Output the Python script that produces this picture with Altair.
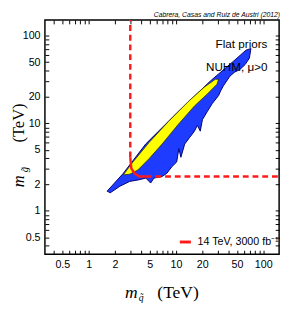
import altair as alt
import pandas as pd

# ---------------- data (TeV) ----------------
blue_x = [1.63, 2.5, 4.5, 10.6, 24.9, 45.3, 63.5, 72.3, 69.3, 62.0, 53.7, 47.0, 41.6, 35.0,
          32.5, 30.8, 26.0, 22.8, 20.1, 19.0, 17.6, 16.3, 14.3, 12.6, 11.4, 10.8, 10.2,
          8.96, 7.88, 6.94, 5.6, 5.14, 4.52, 3.81, 2.95, 2.28, 1.77, 1.63]
blue_y = [1.68, 2.69, 5.8, 13.6, 30.6, 51.0, 68.7, 71.7, 55.5, 47.0, 41.1, 38.5, 34.7, 26.9,
          23.5, 20.8, 16.8, 13.6, 11.0, 8.15, 9.5, 8.15, 6.87, 5.8, 4.1, 5.14, 3.62,
          3.19, 2.69, 2.47, 2.37, 2.08, 2.37, 2.27, 2.17, 1.91, 1.61, 1.68]

yel_x = [2.5, 3.22, 4.92, 8.2, 13.7, 21.0, 28.3, 30.8, 29.5, 22.9, 16.3, 10.6, 6.94, 4.92, 3.66, 2.95, 2.5]
yel_y = [2.58, 3.62, 6.04, 10.5, 17.6, 25.8, 31.9, 31.9, 28.0, 21.7, 15.8, 9.7, 5.8, 3.95, 2.93, 2.62, 2.58]

red_x = [3.0, 3.08, 3.36, 3.81, 4.5]
red_y = [4.1, 3.06, 2.69, 2.47, 2.47]

vline_x = [3.0]
vline_y = [4.1]
hline_x = [4.5]
hline_y = [2.47]

tick_vals = [0.4, 0.5, 0.6, 0.7, 0.8, 0.9, 1, 2, 3, 4, 5, 6, 7, 8, 9,
             10, 20, 30, 40, 50, 60, 70, 80, 90, 100]
label_vals = [0.5, 1, 2, 5, 10, 20, 50, 100]

legend_label = "14 TeV, 3000 fb\u207b\u00b9"
citation = "Cabrera, Casas and Ruiz de Austri (2012)"
note1 = "Flat priors"
note2 = "NUHM, \u03bc>0"

# ---------------- frames ----------------
blue = pd.DataFrame({"x": blue_x, "y": blue_y, "i": range(len(blue_x))})
yel = pd.DataFrame({"x": yel_x, "y": yel_y, "i": range(len(yel_x))})
red = pd.DataFrame({"x": red_x, "y": red_y, "i": range(len(red_x)), "name": [legend_label] * len(red_x)})
vdf = pd.DataFrame({"x": vline_x, "y": vline_y})
hdf = pd.DataFrame({"x": hline_x, "y": hline_y})

W = H = 241
xs = alt.Scale(type="log", domain=[0.316, 152], nice=False)
ys = alt.Scale(type="log", domain=[0.32, 152], nice=False)

lab_expr = "indexof(%s, datum.value) >= 0 ? format(datum.value, '~g') : ''" % str(label_vals)
FONT = "Liberation Sans"


def axis(orient, labels=True):
    return alt.Axis(orient=orient, values=tick_vals, labelExpr=lab_expr, labels=labels,
                    offset=-4, tickSize=4, tickColor="black", tickWidth=1,
                    domain=False, grid=False, title=None,
                    labelFont=FONT, labelFontSize=11, labelColor="black",
                    labelPadding=5, labelOverlap=False, labelFlush=False, labelBound=False)


blue_layer = alt.Chart(blue).mark_line(fill="#1e3cff", stroke="#000070", strokeWidth=1).encode(
    x=alt.X("x:Q", scale=xs, axis=axis("bottom")),
    y=alt.Y("y:Q", scale=ys, axis=axis("left")),
    order="i:Q",
)

yel_layer = alt.Chart(yel).mark_line(fill="#ffff00", stroke="#333300", strokeWidth=0.8).encode(
    x=alt.X("x:Q", scale=xs, axis=None),
    y=alt.Y("y:Q", scale=ys, axis=None),
    order="i:Q",
)

vrule = alt.Chart(vdf).mark_rule(color="#ff1a1a", strokeWidth=2.5, strokeDash=[6, 4]).encode(
    x=alt.X("x:Q", scale=xs, axis=None),
    y=alt.Y("y:Q", scale=ys, axis=None),
    y2=alt.value(0),
)

hrule = alt.Chart(hdf).mark_rule(color="#ff1a1a", strokeWidth=2.5, strokeDash=[6, 4]).encode(
    x=alt.X("x:Q", scale=xs, axis=None),
    x2=alt.value(W),
    y=alt.Y("y:Q", scale=ys, axis=None),
)

red_layer = alt.Chart(red).mark_line(strokeWidth=2.5).encode(
    x=alt.X("x:Q", scale=xs, axis=None),
    y=alt.Y("y:Q", scale=ys, axis=None),
    order="i:Q",
    color=alt.Color("name:N", scale=alt.Scale(domain=[legend_label], range=["#ff1a1a"]),
                    legend=alt.Legend(title=None, orient="none", legendX=137, legendY=221,
                                      symbolType="stroke", symbolStrokeWidth=3, symbolSize=130,
                                      labelFont=FONT, labelFontSize=11, labelColor="black",
                                      labelOffset=5, padding=0, labelLimit=200)),
)

tick_layer = alt.Chart(red).mark_point(opacity=0).encode(
    x=alt.X("x:Q", scale=xs, axis=axis("top", labels=False)),
    y=alt.Y("y:Q", scale=ys, axis=axis("right", labels=False)),
)


def txt(s, x, y, size, align="center", style="normal", font=FONT, angle=0, baseline="middle"):
    kw = dict(text=s, fontSize=size, align=align, fontStyle=style, font=font,
              baseline=baseline, color="black")
    if angle:
        kw["angle"] = angle
    return alt.Chart(pd.DataFrame({"t": [s]})).mark_text(**kw).encode(
        x=alt.value(x), y=alt.value(y))


SERIF = "Liberation Serif"
texts = [
    txt(citation, 242, -3, 7, align="right", style="italic", baseline="alphabetic"),
    txt(note1, 229, 25, 12, align="right"),
    txt(note2, 229, 49, 12, align="right"),
    # x title
    txt("m", 89, 281, 18, style="italic", font=SERIF),
    txt("q\u0303", 99, 286, 10, style="italic", font=SERIF),
    txt("(TeV)", 137, 281, 18, font=SERIF),
    # y title
    txt("m", -27, 166, 17, style="italic", font=SERIF, angle=270),
    txt("g\u0303", -20, 154, 11, style="italic", font=SERIF, angle=270),
    txt("(TeV)", -27, 106, 17, font=SERIF, angle=270),
]

chart = alt.layer(blue_layer, yel_layer, vrule, hrule, red_layer, tick_layer, *texts).resolve_scale(
    x="independent", y="independent"
).properties(
    width=W, height=H,
    autosize=alt.AutoSizeParams(type="none"),
    padding={"left": 38, "top": 8, "right": 4, "bottom": 48},
    background="white",
).configure_view(stroke="black", strokeWidth=1.5)

chart.save("out.html", embed_options={"renderer": "svg", "actions": False})
